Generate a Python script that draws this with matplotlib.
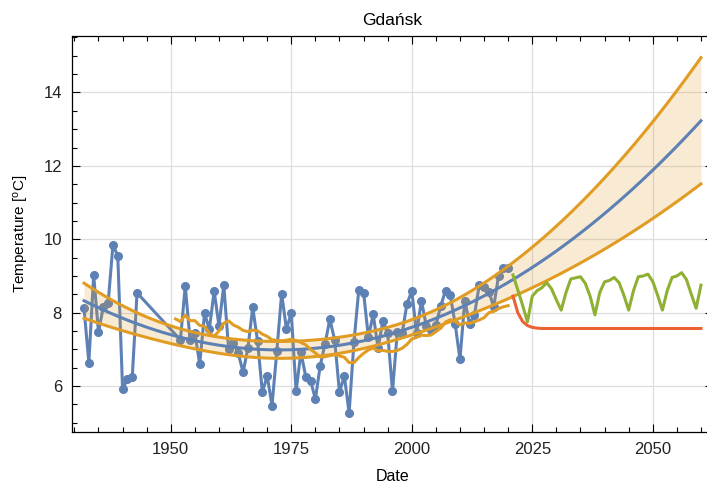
import numpy as np
import pandas as pd
import matplotlib
matplotlib.use('Agg')
import matplotlib.pyplot as plt
from matplotlib.ticker import MultipleLocator

# Medias anuales medidas
anios = [1932, 1933, 1934, 1935, 1936, 1937, 1938, 1939, 1940, 1941, 1942, 1943,
         1952, 1953, 1954, 1955, 1956, 1957, 1958, 1959, 1960, 1961, 1962, 1963,
         1964, 1965, 1966, 1967, 1968, 1969, 1970, 1971, 1972, 1973, 1974, 1975,
         1976, 1977, 1978, 1979, 1980, 1981, 1982, 1983, 1984, 1985, 1986, 1987,
         1988, 1989, 1990, 1991, 1992, 1993, 1994, 1995, 1996, 1997, 1998, 1999,
         2000, 2001, 2002, 2003, 2004, 2005, 2006, 2007, 2008, 2009, 2010, 2011,
         2012, 2013, 2014, 2015, 2016, 2017, 2018, 2019, 2020]
temps = [8.12, 6.64, 9.02, 7.47, 8.16, 8.26, 9.85, 9.55, 5.91, 6.19, 6.24, 8.54,
         7.26, 8.73, 7.26, 7.44, 6.60, 7.98, 7.55, 8.59, 7.64, 8.75, 7.00, 7.17,
         6.89, 6.38, 7.03, 8.15, 7.23, 5.83, 6.28, 5.47, 6.95, 8.52, 7.55, 8.00,
         5.86, 6.92, 6.26, 6.15, 5.65, 6.55, 7.15, 7.82, 7.26, 5.83, 6.28, 5.27,
         7.19, 8.62, 8.55, 7.33, 7.96, 7.03, 7.77, 7.44, 5.86, 7.48, 7.44, 8.24,
         8.59, 7.44, 8.33, 7.65, 7.53, 7.66, 8.18, 8.60, 8.48, 7.69, 6.73, 8.33,
         7.69, 7.94, 8.75, 8.69, 8.57, 8.16, 9.00, 9.21, 9.21]

# Escenarios 2021-2060
anios_pred = list(range(2021, 2061))
ciclo = [9.03, 8.62, 8.20, 7.75, 8.45, 8.60, 8.68, 8.82, 8.65, 8.35,
         8.07, 8.55, 8.92, 8.95, 8.98, 8.80, 8.45, 7.94, 8.55, 8.84,
         8.88, 8.96, 8.82, 8.48, 8.07, 8.60, 8.98, 9.00, 9.05, 8.85,
         8.48, 8.07, 8.60, 8.96, 9.00, 9.09, 8.90, 8.50, 8.12, 8.75]
plano = [8.45, 8.00, 7.76, 7.65, 7.60, 7.58, 7.57, 7.57, 7.57, 7.57,
         7.57, 7.57, 7.57, 7.57, 7.57, 7.57, 7.57, 7.57, 7.57, 7.57,
         7.57, 7.57, 7.57, 7.57, 7.57, 7.57, 7.57, 7.57, 7.57, 7.57,
         7.57, 7.57, 7.57, 7.57, 7.57, 7.57, 7.57, 7.57, 7.57, 7.57]

azul = '#5e81b5'
naranja = '#e19c24'
verde = '#8fb032'
rojo = '#eb6235'

plt.rcParams['font.family'] = ['Liberation Sans', 'DejaVu Sans']
plt.rcParams['mathtext.default'] = 'regular'

# Ajuste cuadratico y banda de confianza
x = np.array(anios, float) - 1975
y = np.array(temps)
X = np.vander(x, 3)
coef, *_ = np.linalg.lstsq(X, y, rcond=None)
resid = y - X @ coef
s2 = resid @ resid / (len(y) - 3)
cov = s2 * np.linalg.inv(X.T @ X)
t = np.linspace(1932, 2060, 300)
T = np.vander(t - 1975, 3)
ajuste = T @ coef
banda = 1.6 * np.sqrt(np.einsum('ij,jk,ik->i', T, cov, T))

# Media movil de 20 anios (ventana hacia atras)
serie = pd.Series(temps, index=anios).reindex(range(1932, 2021))
media = serie.rolling(20, min_periods=1).mean().loc[1951:]

fig = plt.figure(figsize=(7.07, 4.88), dpi=100)
ax = fig.add_axes([0.1014, 0.1148, 0.9075, 0.8115])

ax.plot(anios, temps, '-o', color=azul, lw=2.2, ms=5.5, zorder=2)
ax.fill_between(t, ajuste - banda, ajuste + banda, color=naranja, alpha=0.2,
                lw=0, zorder=3)
ax.plot(t, ajuste + banda, color=naranja, lw=2.2, zorder=4)
ax.plot(t, ajuste - banda, color=naranja, lw=2.2, zorder=4)
ax.plot(t, ajuste, color=azul, lw=2.2, zorder=5)
ax.plot(media.index, media.values, color=naranja, lw=2.2, zorder=5)
ax.plot(anios_pred, ciclo, color=verde, lw=2.2, zorder=6)
ax.plot(anios_pred, plano, color=rojo, lw=2.2, zorder=6)

ax.set_xlim(1929.44, 2062.56)
ax.set_ylim(4.75, 15.54)
ax.xaxis.set_major_locator(MultipleLocator(25))
ax.xaxis.set_minor_locator(MultipleLocator(5))
ax.yaxis.set_major_locator(MultipleLocator(2))
ax.yaxis.set_minor_locator(MultipleLocator(0.5))
ax.tick_params(which='both', direction='in', top=True, right=True,
               width=0.8, labelsize=12, labelcolor='#222222', pad=7)
ax.tick_params(which='major', length=6)
ax.tick_params(which='minor', length=3.5)
ax.grid(True, which='major', color='#dddddd', lw=0.9, zorder=0)
for s in ax.spines.values():
    s.set_linewidth(0.9)

ax.set_title('Gdańsk', fontsize=12.5, pad=8)
ax.set_xlabel('Date', fontsize=11.5, labelpad=9)
ax.set_ylabel('Temperature [$^o$C]', fontsize=11, labelpad=9)

fig.savefig('out.png', dpi=100)
